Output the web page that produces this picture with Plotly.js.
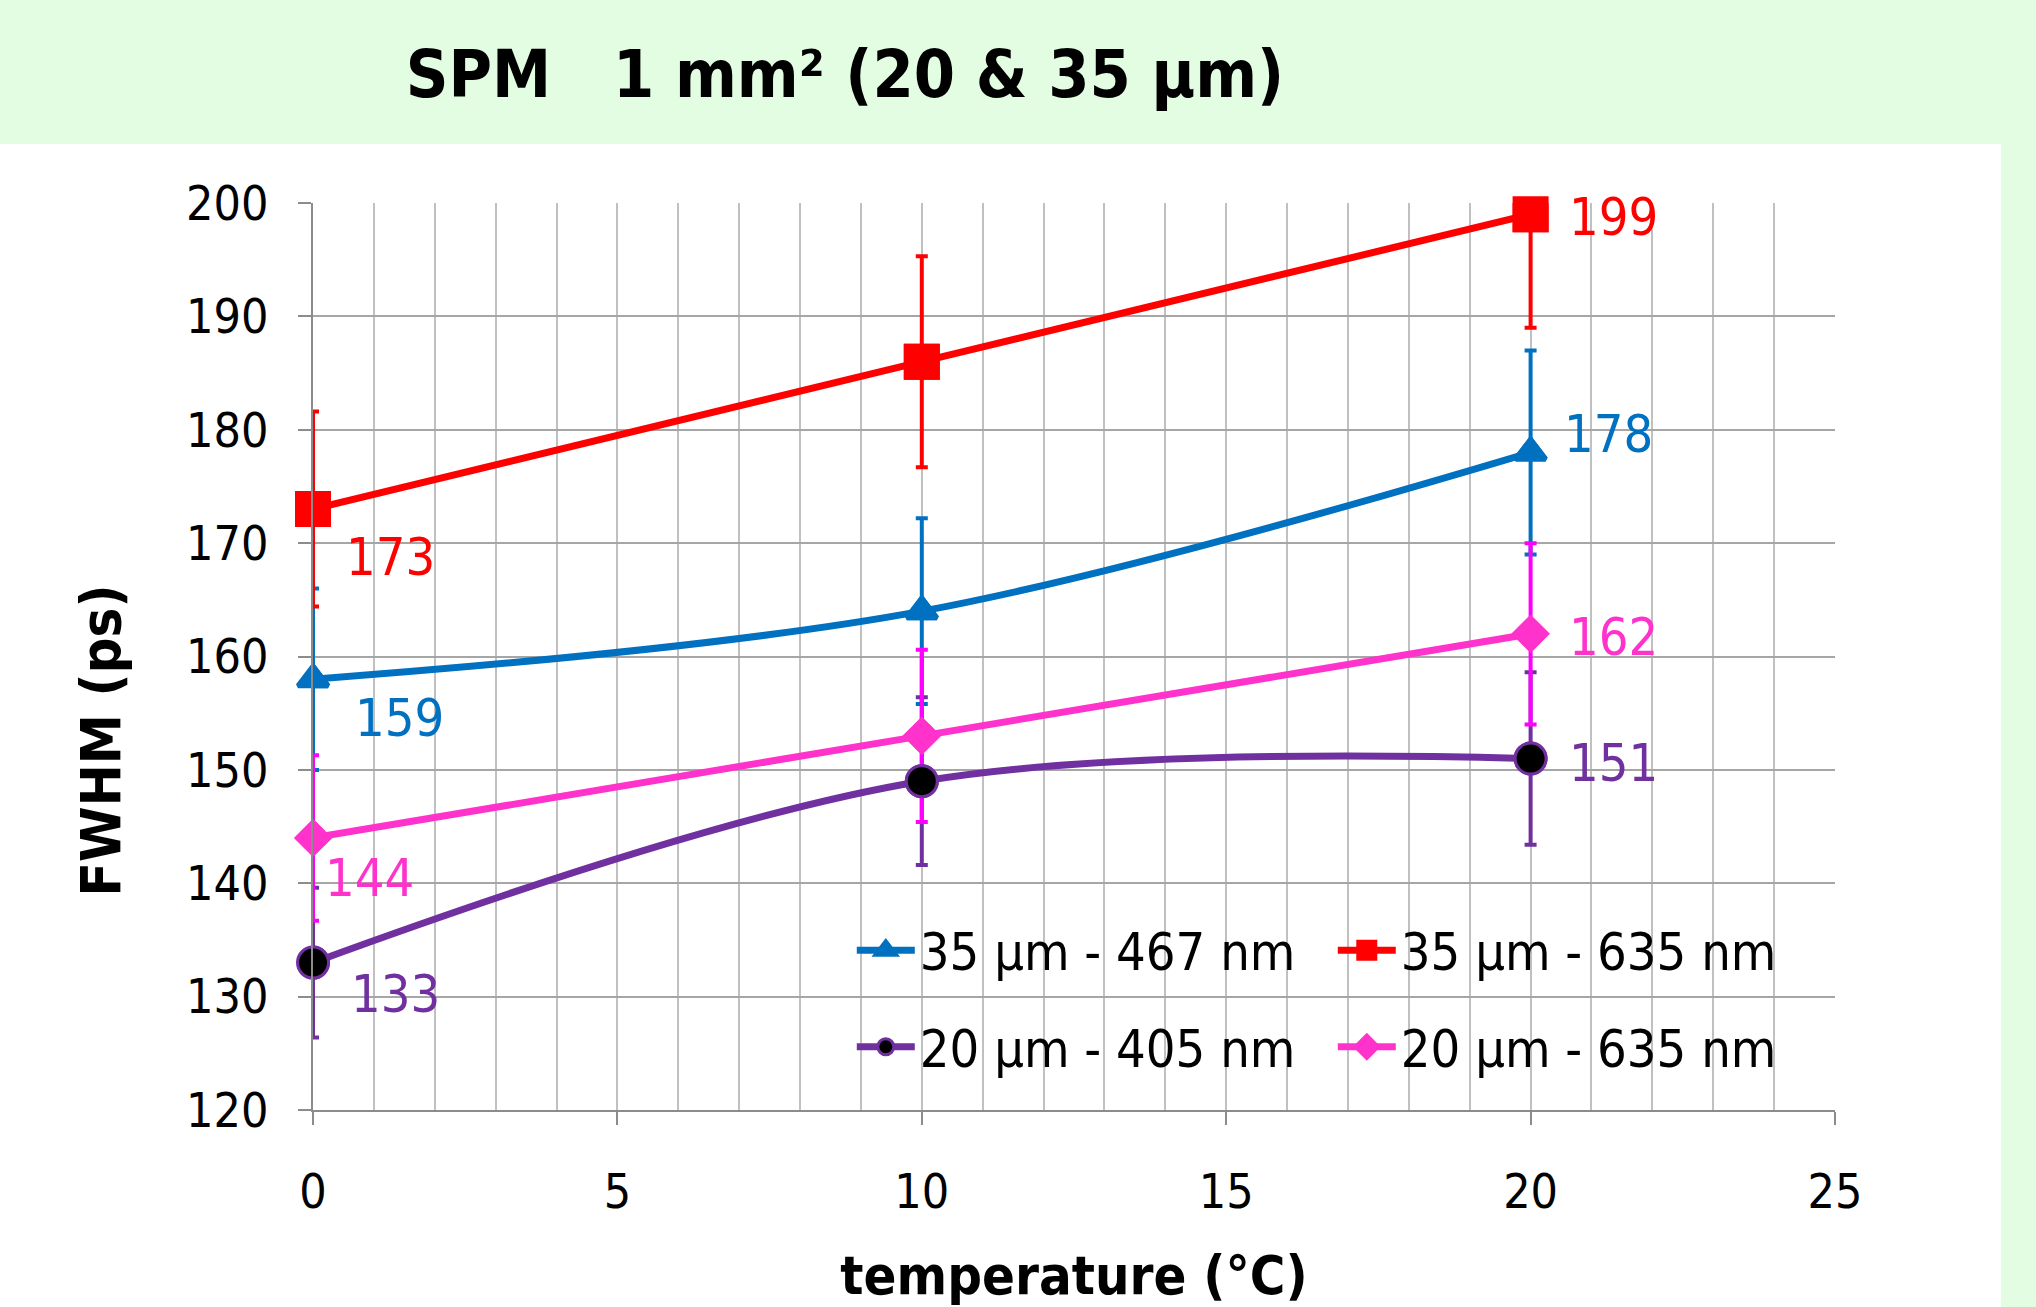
<!DOCTYPE html>
<html><head><meta charset="utf-8">
<script src="https://cdn.plot.ly/plotly-3.0.1.min.js"></script>
<style>html,body{margin:0;padding:0;background:#fff;} #chart{width:2036px;height:1307px;}</style>
</head><body><div id="chart"></div>
<script>
// ---------- data ----------
const temperature = [0, 10, 20];

const seriesNames = ['35 µm - 467 nm', '35 µm - 635 nm', '20 µm - 405 nm', '20 µm - 635 nm'];

const fwhm_35um_467nm = [158, 164, 178];
const err_35um_467nm  = [8.0, 8.2, 9.0];
const labels_35um_467nm = ['159', '', '178'];

const fwhm_35um_635nm = [173, 186, 199];
const err_35um_635nm  = [8.6, 9.3, 10.0];
const labels_35um_635nm = ['173', '', '199'];

const fwhm_20um_405nm = [133, 149, 151];
const err_20um_405nm  = [6.6, 7.4, 7.6];
const labels_20um_405nm = ['133', '', '151'];

const fwhm_20um_635nm = [144, 153, 162];
const err_20um_635nm  = [7.3, 7.6, 8.0];
const labels_20um_635nm = ['144', '', '162'];

const titleText = 'SPM\u00a0\u00a0\u00a01 mm² (20 & 35 µm)';
const xTitle = 'temperature (°C)';
const yTitle = 'FWHM (ps)';

// ---------- styles ----------
const FONT = '"DejaVu Sans Condensed", "DejaVu Sans", sans-serif';
const series = [
  {name: seriesNames[0], y: fwhm_35um_467nm, err: err_35um_467nm, labels: labels_35um_467nm,
   color: '#0070c0', errColor: '#0070c0', labelColor: '#0070c0',
   marker: {symbol: 'triangle-up', size: 26, color: '#0070c0', line: {color: '#0070c0', width: 5}},
   legend: 'legend', shifts: [[40, -39], null, [31, 18]]},
  {name: seriesNames[1], y: fwhm_35um_635nm, err: err_35um_635nm, labels: labels_35um_635nm,
   color: '#ff0000', errColor: '#ff0000', labelColor: '#ff0000',
   marker: {symbol: 'square', size: 31, color: '#ff0000', line: {color: '#ff0000', width: 5}},
   legend: 'legend', shifts: [[31, -48], null, [36, -3]]},
  {name: seriesNames[2], y: fwhm_20um_405nm, err: err_20um_405nm, labels: labels_20um_405nm,
   color: '#7030a0', errColor: '#7030a0', labelColor: '#7030a0',
   marker: {symbol: 'circle', size: 31, color: '#000000', line: {color: '#7030a0', width: 3}},
   legend: 'legend2', shifts: [[36, -31], null, [36, -4]]},
  {name: seriesNames[3], y: fwhm_20um_635nm, err: err_20um_635nm, labels: labels_20um_635nm,
   color: '#ff33cc', errColor: '#ff00ff', labelColor: '#ff33cc',
   marker: {symbol: 'diamond', size: 24, color: '#ff33cc', line: {color: '#ff33cc', width: 5}},
   legend: 'legend2', shifts: [[10, -40], null, [36, -3]]}
];

const traces = [];
series.forEach(s => {
  traces.push({
    type: 'scatter', mode: 'lines+markers', name: s.name,
    x: temperature, y: s.y,
    line: {color: s.color, width: 7, shape: 'spline', smoothing: 1},
    marker: s.marker,
    error_y: {type: 'data', array: s.err, visible: true, color: s.errColor, thickness: 4, width: 6},
    legend: s.legend, cliponaxis: true, hoverinfo: 'x+y'
  });
});
// unclipped marker overlay (markers may sit on the plot edge)
series.forEach(s => {
  traces.push({
    type: 'scatter', mode: 'markers', x: temperature, y: s.y,
    marker: s.marker, showlegend: false, cliponaxis: false, hoverinfo: 'skip'
  });
});

const annotations = [];
series.forEach(s => {
  s.labels.forEach((t, i) => {
    if (!t) return;
    annotations.push({
      xref: 'x', yref: 'y', x: temperature[i], y: s.y[i], text: t,
      showarrow: false, xanchor: 'left', yanchor: 'middle',
      xshift: s.shifts[i][0], yshift: s.shifts[i][1],
      font: {family: FONT, size: 52, color: s.labelColor}
    });
  });
});
annotations.push({
  xref: 'paper', yref: 'paper', x: -0.139, y: 0.408, text: yTitle, textangle: -90,
  showarrow: false, xanchor: 'center', yanchor: 'middle',
  font: {family: FONT, size: 56, weight: 'bold', color: '#000'}
});

const GREEN = '#e2fde2';
const shapes = [
  {type: 'rect', xref: 'paper', yref: 'paper', x0: -1, x1: 2, y0: 1.065, y1: 1.5, fillcolor: GREEN, line: {width: 0}, layer: 'below'},
  {type: 'rect', xref: 'paper', yref: 'paper', x0: 1.109, x1: 1.5, y0: -1, y1: 1.5, fillcolor: GREEN, line: {width: 0}, layer: 'below'},
  // legend box (white, hides gridlines)
  {type: 'rect', xref: 'paper', yref: 'paper', x0: 0.343, x1: 0.978, y0: 0.0165, y1: 0.229, fillcolor: '#ffffff', line: {width: 0}, layer: 'between'}
];

const legendCommon = {
  orientation: 'h', xanchor: 'left', yanchor: 'middle', bgcolor: 'rgba(0,0,0,0)', borderwidth: 0,
  font: {family: FONT, size: 52, color: '#000'}, itemwidth: 58, entrywidth: 408, entrywidthmode: 'pixels',
  itemclick: false, itemdoubleclick: false
};

const layout = {
  width: 2036, height: 1307,
  margin: {l: 313, r: 201, t: 203, b: 197, pad: 0},
  paper_bgcolor: '#ffffff', plot_bgcolor: '#ffffff',
  font: {family: FONT, color: '#000'},
  showlegend: true,
  title: {text: titleText, font: {family: FONT, size: 66, weight: 'bold', color: '#000'},
          x: 0.415, xanchor: 'center', xref: 'container', y: 1 - 74 / 1307, yanchor: 'middle', yref: 'container'},
  xaxis: {
    range: [0, 25], tick0: 0, dtick: 5, ticks: 'outside', ticklen: 13, tickwidth: 2, tickcolor: '#8c8c8c',
    showline: true, linecolor: '#8c8c8c', linewidth: 2, zeroline: false,
    showgrid: true, gridcolor: '#c0c0c0', gridwidth: 2,
    minor: {dtick: 1, showgrid: true, gridcolor: '#c0c0c0', gridwidth: 2, ticks: ''},
    tickfont: {family: FONT, size: 48, color: '#000'}, ticklabelstandoff: 25,
    title: {text: xTitle, font: {family: FONT, size: 54, weight: 'bold', color: '#000'}, standoff: 55}
  },
  yaxis: {
    range: [120, 200], tick0: 120, dtick: 10, ticks: 'outside', ticklen: 13, tickwidth: 2, tickcolor: '#8c8c8c',
    showline: true, linecolor: '#8c8c8c', linewidth: 2, zeroline: false,
    showgrid: true, gridcolor: '#a6a6a6', gridwidth: 2,
    tickfont: {family: FONT, size: 48, color: '#000'}, ticklabelstandoff: 20
  },
  legend: Object.assign({}, legendCommon, {x: 0.354, y: 0.176}),
  legend2: Object.assign({}, legendCommon, {x: 0.354, y: 0.0695}),
  shapes: shapes,
  annotations: annotations
};

Plotly.newPlot('chart', traces, layout, {displayModeBar: false, staticPlot: true});
</script>
</body></html>
